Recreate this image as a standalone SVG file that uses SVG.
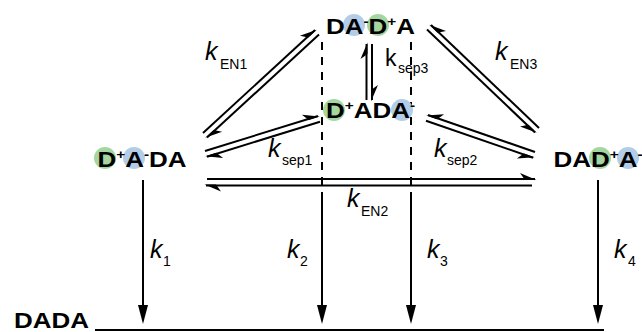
<svg xmlns="http://www.w3.org/2000/svg" width="642" height="332" viewBox="0 0 642 332">
<style>
.ln{stroke:#000;stroke-width:2;fill:none}
.dash{stroke-dasharray:8 7}
.node{font-family:"Liberation Sans",Arial,sans-serif;font-weight:bold;font-size:22px;fill:#000}
.sup{font-size:13px}
.k{font-family:"Liberation Sans",Arial,sans-serif;font-style:italic;font-size:25px;fill:#000}
.ku{font-family:"Liberation Sans",Arial,sans-serif;font-size:23px;fill:#000}
.sub{font-family:"Liberation Sans",Arial,sans-serif;font-size:14px;fill:#000}
.cg{fill:#a6d6a0}
.cb{fill:#b3cde9}
</style>
<defs>
<marker id="hL" markerUnits="userSpaceOnUse" viewBox="-20 -10 24 20" markerWidth="24" markerHeight="20" refX="0" refY="0" orient="auto">
<path d="M1.5,1 L-15,-6 L-10,1 Z" fill="#000"/>
</marker>
<marker id="hR" markerUnits="userSpaceOnUse" viewBox="-20 -10 24 20" markerWidth="24" markerHeight="20" refX="0" refY="0" orient="auto">
<path d="M1.5,-1 L-15,6 L-10,-1 Z" fill="#000"/>
</marker>
<path id="ah" d="M0,0 L-5,-19 L5,-19 Z" fill="#000"/>
</defs>

<g id="connectors">
<!-- kEN1 -->
<path class="ln" d="M203,133 L315,30" marker-end="url(#hL)"/>
<path class="ln" d="M319,34.5 L207,137.5" marker-end="url(#hL)"/>
<!-- ksep1 -->
<path class="ln" d="M205,151 L318,116" marker-end="url(#hL)"/>
<path class="ln" d="M320,121.7 L207,156.7" marker-end="url(#hL)"/>
<!-- ksep2 -->
<path class="ln" d="M535,152 L428,115" marker-end="url(#hR)"/>
<path class="ln" d="M426,120.7 L533,157.7" marker-end="url(#hR)"/>
<!-- kEN3 -->
<path class="ln" d="M539,128 L431,25" marker-end="url(#hR)"/>
<path class="ln" d="M427,29.5 L535,132.5" marker-end="url(#hR)"/>
<!-- kEN2 -->
<path class="ln" d="M207,179 L535,179" marker-end="url(#hL)"/>
<path class="ln" d="M532,185.5 L206,185.5" marker-end="url(#hL)"/>
<!-- ksep3 -->
<path class="ln" d="M366.5,100 L366.5,44" marker-end="url(#hL)"/>
<path class="ln" d="M372,44 L372,100" marker-end="url(#hL)"/>
<!-- decay arrows -->
<path class="ln" d="M143,180 L143,306"/>
<use href="#ah" x="143" y="324"/>
<path class="ln dash" d="M322,42 L322,200"/>
<path class="ln" d="M322,200 L322,306"/>
<use href="#ah" x="322" y="324"/>
<path class="ln dash" d="M411,42 L411,200"/>
<path class="ln" d="M411,200 L411,306"/>
<use href="#ah" x="411" y="324"/>
<path class="ln" d="M598,180 L598,306"/>
<use href="#ah" x="598" y="324"/>
<path class="ln" d="M95,330 L604,330"/>
</g>

<g id="labels">
<text class="k" x="205" y="60">k</text><text class="sub" x="220" y="69">EN1</text>
<text class="k" x="495" y="60">k</text><text class="sub" x="510" y="69">EN3</text>
<text class="ku" x="385" y="66">k</text><text class="sub" x="398" y="73">sep3</text>
<text class="k" x="268" y="157">k</text><text class="sub" x="282" y="165">sep1</text>
<text class="k" x="434" y="157">k</text><text class="sub" x="447" y="165">sep2</text>
<text class="k" x="347" y="207">k</text><text class="sub" x="361" y="216">EN2</text>
<text class="k" x="150" y="258">k</text><text class="sub" x="163" y="266">1</text>
<text class="k" x="287" y="258">k</text><text class="sub" x="300" y="266">2</text>
<text class="k" x="427" y="258">k</text><text class="sub" x="440" y="266">3</text>
<text class="k" x="614" y="258">k</text><text class="sub" x="628" y="266">4</text>
</g>

<g id="n_top">
<circle class="cb" cx="354" cy="25" r="11"/>
<circle class="cg" cx="378" cy="25" r="11"/>
<text class="node" transform="translate(326,34) scale(1.18,1)">DA<tspan class="sup" dy="-8">-</tspan><tspan dy="8">D</tspan><tspan class="sup" dy="-8">+</tspan><tspan dy="8">A</tspan></text>
</g>
<g id="n_mid">
<circle class="cg" cx="334" cy="110" r="11"/>
<circle class="cb" cx="402" cy="110" r="11"/>
<text class="node" transform="translate(326,118) scale(1.18,1)">D<tspan class="sup" dy="-8">+</tspan><tspan dy="8">ADA</tspan><tspan class="sup" dy="-8">-</tspan></text>
</g>
<g id="n_left">
<circle class="cg" cx="105" cy="158" r="11"/>
<circle class="cb" cx="134" cy="158" r="11"/>
<text class="node" transform="translate(97.5,166.5) scale(1.18,1)">D<tspan class="sup" dy="-8">+</tspan><tspan dy="8">A</tspan><tspan class="sup" dy="-8">-</tspan><tspan dy="8">DA</tspan></text>
</g>
<g id="n_right">
<circle class="cg" cx="600" cy="158" r="11"/>
<circle class="cb" cx="628" cy="158" r="11"/>
<text class="node" transform="translate(553.5,166.5) scale(1.18,1)">DAD<tspan class="sup" dy="-8">+</tspan><tspan dy="8">A</tspan><tspan class="sup" dy="-8">-</tspan></text>
</g>
<g id="n_dada">
<text class="node" transform="translate(14,328) scale(1.18,1)">DADA</text>
</g>
</svg>
